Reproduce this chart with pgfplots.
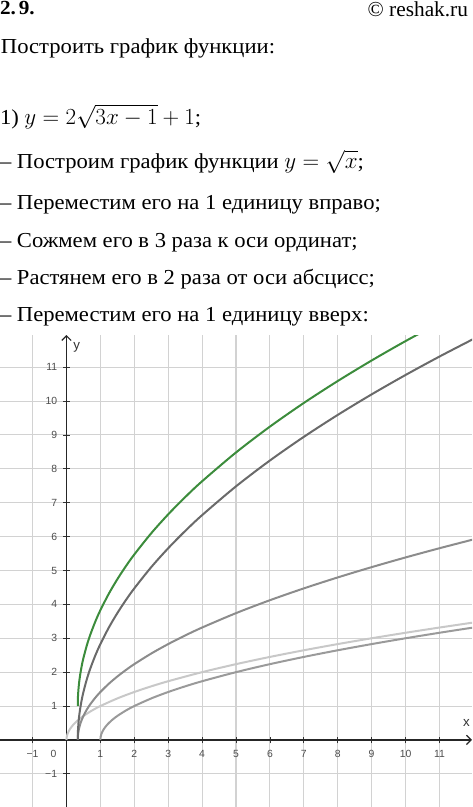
\documentclass[border=0pt]{standalone}
\usepackage{fontspec}
\setmainfont{Liberation Serif}[FakeStretch=1.06]
\newfontfamily\timesfont{Liberation Serif}
\setsansfont{Liberation Sans}
\usepackage{pgfplots}
\pgfplotsset{compat=1.18}
\usetikzlibrary{arrows.meta}
\definecolor{cgreen}{HTML}{3C8C3C}
\definecolor{cdark}{HTML}{6A6A6A}
\definecolor{cmid}{HTML}{8C8C8C}
\definecolor{clight}{HTML}{C8C8C8}
\definecolor{cshift}{HTML}{9A9A9A}
\definecolor{cgrid}{HTML}{D2D2D2}
\begin{document}
\begin{tikzpicture}
\useasboundingbox (0pt,0pt) rectangle (354pt,-605.25pt);
\begin{scope}[x=0.75pt,y=-0.75pt,every node/.style={inner sep=0pt,outer sep=0pt}]
\node[anchor=base west] at (0,14) {\bfseries\fontsize{15}{17}\selectfont 2.\hspace{0.15em}9.};
\node[anchor=base east] at (468,16) {\timesfont\fontsize{16}{18}\selectfont © reshak.ru};
\node[anchor=base west] at (1,53.5) {\fontsize{16}{18}\selectfont Построить график функции:};
\node[anchor=base west] at (0,124) {\fontsize{16}{18}\selectfont 1) $y = 2\sqrt{3x-1}+1$;};
\node[anchor=base west] at (0,168) {\fontsize{16}{18}\selectfont – Построим график функции $y=\sqrt{x}$;};
\node[anchor=base west] at (0,209) {\fontsize{16}{18}\selectfont – Переместим его на 1 единицу вправо;};
\node[anchor=base west] at (0,247) {\fontsize{16}{18}\selectfont – Сожмем его в 3 раза к оси ординат;};
\node[anchor=base west] at (0,284) {\fontsize{16}{18}\selectfont – Растянем его в 2 раза от оси абсцисс;};
\node[anchor=base west] at (0,321) {\fontsize{16}{18}\selectfont – Переместим его на 1 единицу вверх:};
\end{scope}
\begin{axis}[
  at={(0pt,-605.25pt)}, anchor=south west,
  scale only axis, width=354pt, height=354pt,
  xmin=-1.96, xmax=11.96, ymin=-1.98, ymax=11.95,
  axis lines=middle,
  axis line style={black!85, line width=0.9pt, -{Straight Barb[length=3.5pt,width=7pt]}},
  grid=major, grid style={cgrid, line width=0.8pt},
  xtick={-1,1,2,3,4,5,6,7,8,9,10,11},
  ytick={-1,1,2,3,4,5,6,7,8,9,10,11},
  xticklabels={−1,1,2,3,4,5,6,7,8,9,10,11},
  yticklabels={−1,1,2,3,4,5,6,7,8,9,10,11},
  tick style={black!80, line width=0.6pt},
  major tick length=5pt,
  ticklabel style={font=\sffamily\fontsize{7.8}{8}\selectfont, text=black!70},
  xticklabel style={yshift=-2pt},
  yticklabel style={xshift=-1pt},
  clip=true,
]
\addplot[clight, line width=1.5pt, smooth] coordinates {
(0,0) (0.01,0.1) (0.03,0.1732) (0.06,0.2449) (0.1,0.3162) (0.2,0.4472) (0.35,0.5916) (0.5,0.7071) (0.75,0.8660) (1,1) (1.5,1.2247) (2,1.4142) (2.5,1.5811) (3,1.7321) (4,2) (5,2.2361) (6,2.4495) (7,2.6458) (8,2.8284) (9,3) (10,3.1623) (11,3.3166) (12,3.4641)};
\addplot[cshift, line width=1.5pt, smooth] coordinates {
(1,0) (1.01,0.1) (1.03,0.1732) (1.06,0.2449) (1.1,0.3162) (1.2,0.4472) (1.35,0.5916) (1.5,0.7071) (1.75,0.8660) (2,1) (2.5,1.2247) (3,1.4142) (3.5,1.5811) (4,1.7321) (5,2) (6,2.2361) (7,2.4495) (8,2.6458) (9,2.8284) (10,3) (11,3.1623) (12,3.3166) (13,3.4641)};
\addplot[cmid, line width=1.5pt, smooth] coordinates {
(0.3333,0) (0.34,0.1414) (0.35,0.2236) (0.37,0.3317) (0.4,0.4472) (0.45,0.5916) (0.5,0.7071) (0.6,0.8944) (0.7,1.0488) (0.85,1.2450) (1,1.4142) (1.25,1.6583) (1.5,1.8708) (1.75,2.0616) (2,2.2361) (2.5,2.5495) (3,2.8284) (3.5,3.0822) (4,3.3166) (5,3.7417) (6,4.1231) (7,4.4721) (8,4.7958) (9,5.0990) (10,5.3852) (11,5.6569) (12,5.9161)};
\addplot[cdark, line width=1.5pt, smooth] coordinates {
(0.3333,0) (0.34,0.2828) (0.35,0.4472) (0.37,0.6633) (0.4,0.8944) (0.45,1.1832) (0.5,1.4142) (0.6,1.7889) (0.7,2.0976) (0.85,2.4900) (1,2.8284) (1.25,3.3166) (1.5,3.7417) (1.75,4.1231) (2,4.4721) (2.5,5.0990) (3,5.6569) (3.5,6.1644) (4,6.6332) (5,7.4833) (6,8.2462) (7,8.9443) (8,9.5917) (9,10.1980) (10,10.7703) (11,11.3137) (12,11.8322)};
\addplot[cgreen, line width=1.5pt, smooth] coordinates {
(0.3333,1) (0.34,1.2828) (0.35,1.4472) (0.37,1.6633) (0.4,1.8944) (0.45,2.1832) (0.5,2.4142) (0.6,2.7889) (0.7,3.0976) (0.85,3.4900) (1,3.8284) (1.25,4.3166) (1.5,4.7417) (1.75,5.1231) (2,5.4721) (2.5,6.0990) (3,6.6569) (3.5,7.1644) (4,7.6332) (5,8.4833) (6,9.2462) (7,9.9443) (8,10.5917) (9,11.1980) (10,11.7703) (11,12.3137)};
\node[anchor=north east, font=\sffamily\fontsize{7.8}{8}\selectfont, text=black!70] at (axis cs:0,0) [xshift=-4pt,yshift=-4pt] {0};
\node[font=\sffamily\fontsize{10}{11}\selectfont, text=black!80] at (axis cs:0.3,11.6) {y};
\node[font=\sffamily\fontsize{10}{11}\selectfont, text=black!80] at (axis cs:11.8,0.5) {x};
\end{axis}
\end{tikzpicture}
\end{document}
